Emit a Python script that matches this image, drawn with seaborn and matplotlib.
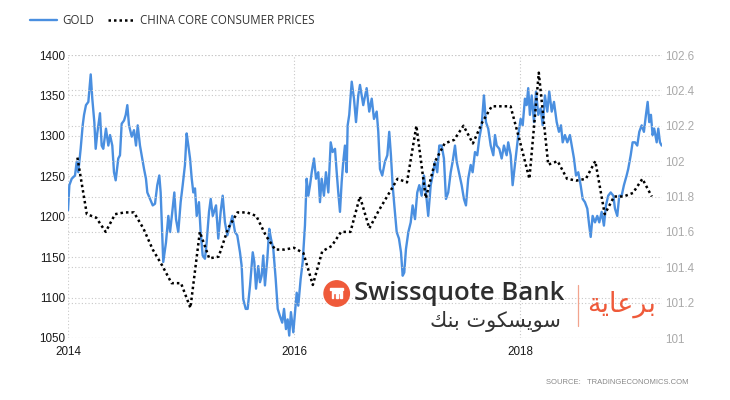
import matplotlib
matplotlib.use('Agg')
import matplotlib.pyplot as plt
import seaborn as sns
import pandas as pd
from matplotlib.patches import Circle, Rectangle
from matplotlib.lines import Line2D

# gold price (USD/oz), sampled from the chart as decimal years
gold_years = [
    2014.000, 2014.012, 2014.033, 2014.062, 2014.077, 2014.091, 2014.112, 2014.130, 2014.142, 2014.159,
    2014.180, 2014.201, 2014.215, 2014.233, 2014.245, 2014.259, 2014.283, 2014.298, 2014.312, 2014.336,
    2014.357, 2014.372, 2014.392, 2014.407, 2014.422, 2014.445, 2014.460, 2014.475, 2014.496, 2014.511,
    2014.525, 2014.540, 2014.564, 2014.584, 2014.602, 2014.617, 2014.637, 2014.652, 2014.673, 2014.690,
    2014.702, 2014.726, 2014.750, 2014.770, 2014.790, 2014.808, 2014.820, 2014.829, 2014.843, 2014.867,
    2014.888, 2014.903, 2014.923, 2014.941, 2014.956, 2014.976, 2014.997, 2015.015, 2015.035, 2015.050,
    2015.065, 2015.080, 2015.095, 2015.109, 2015.124, 2015.139, 2015.159, 2015.174, 2015.192, 2015.212,
    2015.227, 2015.248, 2015.263, 2015.281, 2015.310, 2015.330, 2015.351, 2015.369, 2015.389, 2015.410,
    2015.434, 2015.454, 2015.478, 2015.498, 2015.522, 2015.537, 2015.551, 2015.573, 2015.590, 2015.611,
    2015.635, 2015.649, 2015.664, 2015.684, 2015.699, 2015.714, 2015.728, 2015.743, 2015.764, 2015.781,
    2015.796, 2015.817, 2015.838, 2015.856, 2015.876, 2015.896, 2015.912, 2015.929, 2015.944, 2015.958,
    2015.973, 2015.994, 2016.009, 2016.024, 2016.038, 2016.059, 2016.077, 2016.097, 2016.112, 2016.127,
    2016.142, 2016.157, 2016.177, 2016.195, 2016.215, 2016.230, 2016.245, 2016.265, 2016.283, 2016.304,
    2016.325, 2016.342, 2016.363, 2016.378, 2016.392, 2016.407, 2016.422, 2016.436, 2016.451, 2016.466,
    2016.475, 2016.489, 2016.511, 2016.531, 2016.549, 2016.569, 2016.584, 2016.613, 2016.643, 2016.666,
    2016.688, 2016.708, 2016.732, 2016.746, 2016.761, 2016.781, 2016.805, 2016.826, 2016.843, 2016.858,
    2016.873, 2016.888, 2016.909, 2016.929, 2016.947, 2016.962, 2016.976, 2016.991, 2017.012, 2017.033,
    2017.050, 2017.071, 2017.091, 2017.109, 2017.130, 2017.150, 2017.168, 2017.188, 2017.210, 2017.227,
    2017.248, 2017.268, 2017.286, 2017.307, 2017.327, 2017.345, 2017.365, 2017.387, 2017.404, 2017.425,
    2017.440, 2017.460, 2017.484, 2017.504, 2017.522, 2017.542, 2017.564, 2017.581, 2017.602, 2017.622,
    2017.640, 2017.661, 2017.681, 2017.699, 2017.719, 2017.741, 2017.764, 2017.779, 2017.794, 2017.817,
    2017.838, 2017.858, 2017.882, 2017.896, 2017.918, 2017.935, 2017.965, 2017.985, 2018.006, 2018.024,
    2018.044, 2018.059, 2018.073, 2018.088, 2018.104, 2018.124, 2018.142, 2018.162, 2018.183, 2018.201,
    2018.221, 2018.242, 2018.259, 2018.281, 2018.301, 2018.325, 2018.345, 2018.363, 2018.378, 2018.398,
    2018.419, 2018.442, 2018.458, 2018.478, 2018.496, 2018.516, 2018.537, 2018.555, 2018.575, 2018.596,
    2018.613, 2018.626, 2018.643, 2018.664, 2018.684, 2018.702, 2018.723, 2018.743, 2018.761, 2018.781,
    2018.803, 2018.826, 2018.841, 2018.861, 2018.879, 2018.900, 2018.920, 2018.944, 2018.958, 2018.980,
    2018.997, 2019.018, 2019.038, 2019.056, 2019.077, 2019.097, 2019.115, 2019.130, 2019.144, 2019.159,
    2019.174, 2019.188, 2019.210, 2019.224, 2019.239, 2019.254,
]
gold_price = [
    1208, 1239, 1247, 1251, 1268, 1255, 1284, 1313, 1326, 1338,
    1342, 1376, 1346, 1317, 1284, 1303, 1328, 1288, 1284, 1309,
    1288, 1301, 1288, 1255, 1245, 1272, 1276, 1315, 1319, 1326,
    1338, 1313, 1299, 1307, 1288, 1313, 1288, 1276, 1259, 1247,
    1230, 1222, 1214, 1216, 1239, 1251, 1230, 1197, 1144, 1168,
    1201, 1181, 1206, 1230, 1197, 1181, 1218, 1239, 1264, 1303,
    1288, 1272, 1247, 1230, 1235, 1201, 1218, 1181, 1152, 1148,
    1168, 1206, 1222, 1201, 1214, 1173, 1206, 1226, 1193, 1177,
    1189, 1201, 1181, 1177, 1156, 1139, 1098, 1086, 1086, 1115,
    1156, 1144, 1111, 1139, 1119, 1127, 1152, 1115, 1148, 1185,
    1173, 1160, 1123, 1086, 1077, 1069, 1086, 1061, 1073, 1053,
    1082, 1057, 1082, 1106, 1090, 1123, 1144, 1189, 1247, 1226,
    1239, 1255, 1272, 1247, 1255, 1218, 1247, 1226, 1255, 1230,
    1292, 1280, 1284, 1255, 1230, 1206, 1243, 1268, 1288, 1255,
    1313, 1326, 1367, 1346, 1317, 1350, 1363, 1338, 1359, 1330,
    1346, 1321, 1330, 1305, 1259, 1251, 1268, 1276, 1305, 1276,
    1239, 1214, 1181, 1173, 1156, 1127, 1131, 1160, 1181, 1193,
    1214, 1197, 1230, 1239, 1226, 1251, 1230, 1201, 1239, 1251,
    1268, 1255, 1288, 1288, 1272, 1222, 1230, 1255, 1268, 1288,
    1268, 1255, 1239, 1222, 1214, 1247, 1264, 1255, 1280, 1276,
    1297, 1313, 1350, 1317, 1309, 1288, 1276, 1301, 1288, 1284,
    1272, 1288, 1276, 1292, 1276, 1239, 1276, 1301, 1321, 1313,
    1346, 1338, 1359, 1326, 1350, 1317, 1355, 1326, 1334, 1313,
    1350, 1330, 1355, 1330, 1342, 1317, 1305, 1313, 1292, 1301,
    1292, 1301, 1288, 1272, 1251, 1255, 1239, 1222, 1218, 1210,
    1189, 1175, 1201, 1193, 1201, 1193, 1206, 1189, 1214, 1226,
    1230, 1226, 1210, 1201, 1226, 1226, 1239, 1251, 1259, 1276,
    1292, 1292, 1288, 1305, 1313, 1305, 1326, 1342, 1317, 1326,
    1301, 1309, 1292, 1309, 1292, 1288,
]

# China core consumer prices, monthly from Feb 2014
cpi_start = '2014-02-01'
cpi_values = [
    102.02, 101.70, 101.68, 101.60, 101.70, 101.71, 101.71, 101.62, 101.50, 101.41,
    101.31, 101.31, 101.17, 101.60, 101.45, 101.46, 101.62, 101.71, 101.71, 101.69,
    101.58, 101.50, 101.50, 101.51, 101.48, 101.30, 101.49, 101.52, 101.60, 101.60,
    101.80, 101.62, 101.72, 101.81, 101.90, 101.88, 102.20, 101.79, 102.00, 102.10,
    102.12, 102.20, 102.10, 102.22, 102.31, 102.31, 102.31, 102.11, 101.90, 102.50,
    101.98, 102.00, 101.90, 101.89, 101.90, 102.00, 101.70, 101.80, 101.80, 101.82,
    101.90, 101.80,
]
cpi_dates = pd.date_range(cpi_start, periods=len(cpi_values), freq='MS')
cpi_years = list(cpi_dates.year + (cpi_dates.month - 1) / 12)

gold_ticks = [1050, 1100, 1150, 1200, 1250, 1300, 1350, 1400]
cpi_ticks = [101, 101.2, 101.4, 101.6, 101.8, 102, 102.2, 102.4, 102.6]
cpi_tick_labels = ['101', '101.2', '101.4', '101.6', '101.8', '102', '102.2', '102.4', '102.6']
year_ticks = [2014, 2016, 2018]

sns.set_style('white')
plt.rcParams['font.family'] = ['Liberation Sans', 'DejaVu Sans']

W, H = 730, 400
fig = plt.figure(figsize=(W / 100, H / 100), dpi=100)
ax = fig.add_axes([68 / W, 1 - 338 / H, (662 - 68) / W, (338 - 55) / H])
ax2 = ax.twinx()

grid_kw = dict(color='#c8c8c8', linestyle=(0, (1, 2)), linewidth=0.8)

sns.lineplot(x=gold_years, y=gold_price, ax=ax, color='#4a8fe0', linewidth=1.7,
             estimator=None, sort=False, legend=False)
sns.lineplot(x=cpi_years, y=cpi_values, ax=ax2, color='black', linewidth=1.8,
             linestyle=(0, (1, 1.2)), estimator=None, sort=False, legend=False)

ax.set_xlim(2014, 2019.257)
ax.set_ylim(1050, 1400)
ax2.set_ylim(101, 102.6)
ax.set_yticks(gold_ticks)
ax.set_yticklabels([str(t) for t in gold_ticks])
ax2.set_yticks(cpi_ticks)
ax2.set_yticklabels(cpi_tick_labels)
ax.set_xticks(year_ticks)
ax.set_xticklabels([str(y) for y in year_ticks])
ax.set_xlabel('')
ax.set_ylabel('')
ax2.set_ylabel('')

ax.grid(True, axis='both', **grid_kw)
ax2.grid(True, axis='y', **grid_kw)
ax.set_axisbelow(True)
for a in (ax, ax2):
    for s in a.spines.values():
        s.set_visible(False)
ax.tick_params(axis='y', length=0, pad=2, labelsize=8.4, labelcolor='#1a1a1a')
ax.tick_params(axis='x', length=0, pad=6, labelsize=8.4, labelcolor='#1a1a1a')
ax2.tick_params(axis='y', length=0, pad=2, labelsize=8.4, labelcolor='#aaaaaa')

# legend
handles = [Line2D([], [], color='#4a8fe0', linewidth=1.7),
           Line2D([], [], color='black', linewidth=1.8, linestyle=(0, (1, 1.2)))]
fig.legend(handles, ['GOLD', 'CHINA CORE CONSUMER PRICES'], loc='center left',
           bbox_to_anchor=(30 / W, 1 - 21 / H), ncol=2, frameon=False,
           handlelength=2.3, handletextpad=0.5, columnspacing=1.2,
           borderpad=0, borderaxespad=0,
           prop={'family': 'Open Sans', 'size': 8.3}, labelcolor='#333333')

fig.text(688 / W, 1 - 383 / H, 'SOURCE:   TRADINGECONOMICS.COM', ha='right', va='center',
         fontsize=5.5, color='#888888')

# sponsor watermark
px = fig.dpi_scale_trans
logo_x, logo_y = 3.367, (H - 293.5) / 100
fig.patches.append(Circle((logo_x, logo_y), 0.127, transform=px, color='#ef5a3a', zorder=5))
for (dx, dy, w, h) in [(-0.065, 0.035, 0.13, 0.018), (-0.05, 0.005, 0.10, 0.016),
                       (-0.05, -0.045, 0.016, 0.05), (0.034, -0.045, 0.016, 0.05),
                       (-0.008, -0.045, 0.016, 0.04)]:
    fig.patches.append(Rectangle((logo_x + dx, logo_y + dy), w, h, transform=px,
                                 color='white', zorder=6))
fig.text(354 / W, 1 - 293 / H, 'Swissquote Bank', ha='left', va='center', fontsize=18.5,
         family='Open Sans', weight='semibold', color='#2e2e2e', zorder=6)
fig.text(561 / W, 1 - 322 / H, '\uFEDA\uFEE8\uFE91 \uFE95\uFEEE\uFEDC\uFEB4\uFEF3\uFEEE\uFEB3',
         ha='right', va='center', fontsize=15, family='DejaVu Sans', color='#333333', zorder=6)
fig.lines.append(Line2D([578 / W, 578 / W], [1 - 285 / H, 1 - 326 / H], transform=fig.transFigure,
                        color='#f2a48e', linewidth=0.9))
fig.text(622 / W, 1 - 304 / H, '\uFE94\uFEF3\uFE8E\uFECB\uFEAE\uFE91', ha='center', va='center',
         fontsize=19.5, family='DejaVu Sans', color='#ef5a3a', zorder=6)

fig.savefig('out.png', dpi=100)
